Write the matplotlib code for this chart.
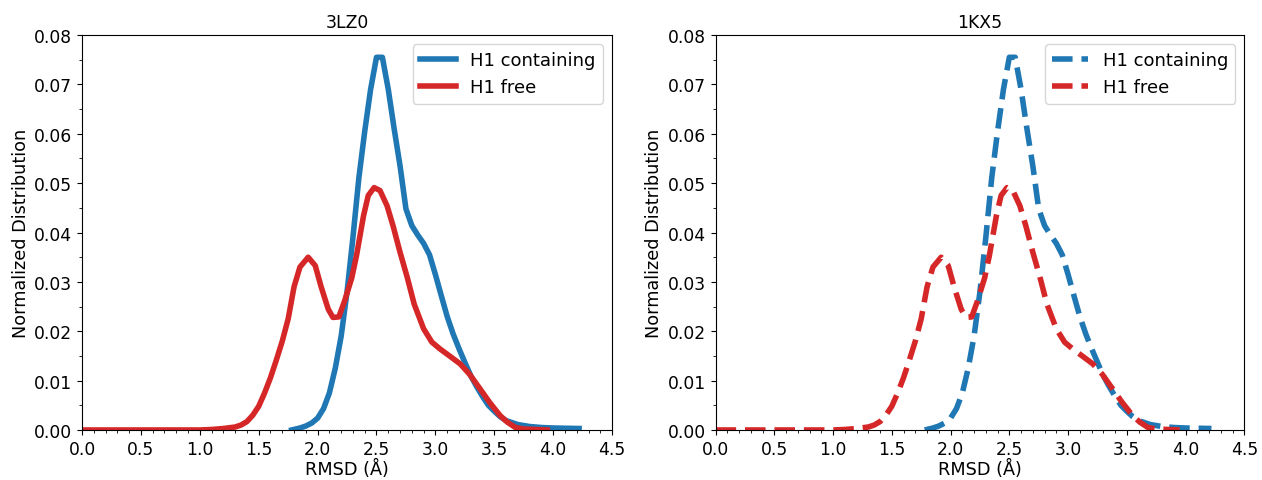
import matplotlib.pyplot as plt
from matplotlib.ticker import MultipleLocator

# RMSD grid and distributions
rmsd_h1 = [1.78, 1.85, 1.90, 1.95, 2.00, 2.05, 2.10, 2.15, 2.20, 2.25, 2.30, 2.35,
           2.40, 2.45, 2.50, 2.55, 2.60, 2.65, 2.70, 2.75, 2.80, 2.85, 2.90, 2.95,
           3.00, 3.05, 3.10, 3.15, 3.20, 3.25, 3.30, 3.35, 3.40, 3.45, 3.50, 3.55,
           3.60, 3.70, 3.80, 3.90, 4.00, 4.22]
dist_h1 = [0.0, 0.0004, 0.0008, 0.0014, 0.0024, 0.0043, 0.0075, 0.0125, 0.0190,
           0.0280, 0.0390, 0.0510, 0.0605, 0.0690, 0.0755, 0.0755, 0.0690, 0.0610,
           0.0535, 0.0448, 0.0414, 0.0395, 0.0378, 0.0355, 0.0315, 0.0272, 0.0230,
           0.0195, 0.0165, 0.0137, 0.0110, 0.0088, 0.0068, 0.0050, 0.0038, 0.0027,
           0.0019, 0.0011, 0.0007, 0.0005, 0.0004, 0.0003]

rmsd_free = [0.0, 0.5, 1.0, 1.1, 1.2, 1.3, 1.35, 1.40, 1.45, 1.50, 1.55, 1.60,
             1.65, 1.70, 1.75, 1.80, 1.85, 1.92, 1.98, 2.03, 2.09, 2.13, 2.18,
             2.23, 2.29, 2.33, 2.39, 2.43, 2.48, 2.53, 2.59, 2.64, 2.70, 2.76,
             2.82, 2.90, 2.97, 3.04, 3.12, 3.21, 3.29, 3.38, 3.46, 3.55, 3.61,
             3.68, 3.75, 3.95]
dist_free = [0.0, 0.0, 0.0, 0.0001, 0.0003, 0.0006, 0.0010, 0.0017, 0.0030, 0.0048,
             0.0075, 0.0106, 0.0142, 0.0180, 0.0225, 0.0290, 0.0330, 0.0350, 0.0333,
             0.0290, 0.0245, 0.0228, 0.0229, 0.0262, 0.0308, 0.0353, 0.0434, 0.0475,
             0.0491, 0.0485, 0.0454, 0.0414, 0.0360, 0.0310, 0.0255, 0.0205, 0.0178,
             0.0164, 0.0150, 0.0134, 0.0113, 0.0083, 0.0056, 0.0029, 0.0016, 0.0005,
             0.0002, 0.0]

titles = ['3LZ0', '1KX5']
styles = ['-', '--']

fig = plt.figure(figsize=(12.62, 4.81), dpi=100)
axes = [fig.add_axes([0.065, 0.104, 0.42, 0.821]),
        fig.add_axes([0.567, 0.104, 0.419, 0.821])]

for ax, title, ls in zip(axes, titles, styles):
    ax.plot(rmsd_h1, dist_h1, ls, color='#1f77b4', lw=4, label='H1 containing')
    ax.plot(rmsd_free, dist_free, ls, color='#d62728', lw=4, label='H1 free')
    ax.set_xlim(0, 4.5)
    ax.set_ylim(0, 0.08)
    ax.xaxis.set_major_locator(MultipleLocator(0.5))
    ax.xaxis.set_minor_locator(MultipleLocator(0.1))
    ax.yaxis.set_major_locator(MultipleLocator(0.01))
    ax.yaxis.set_minor_locator(MultipleLocator(0.005))
    ax.tick_params(labelsize=12.3)
    ax.set_xlabel('RMSD (Å)', fontsize=12.7, labelpad=1)
    ax.set_ylabel('Normalized Distribution', fontsize=12.7, labelpad=3)
    ax.set_title(title, fontsize=12.4)
    ax.legend(loc='upper right', fontsize=13)

fig.savefig('out.png', dpi=100)
